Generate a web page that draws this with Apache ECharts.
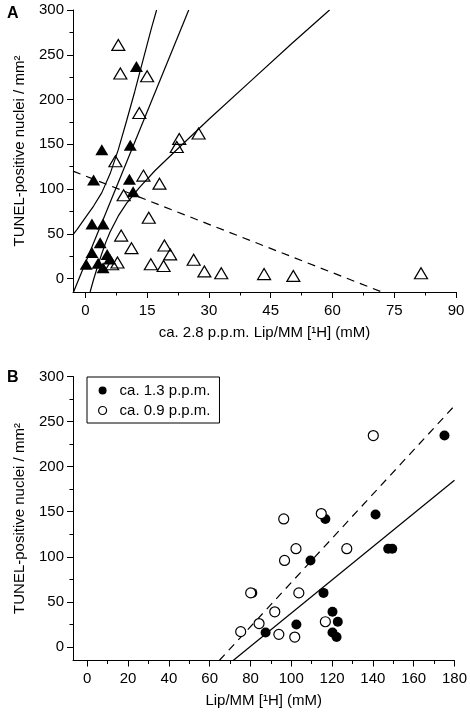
<!DOCTYPE html>
<html><head><meta charset="utf-8">
<script src="https://cdn.jsdelivr.net/npm/echarts@6/dist/echarts.min.js"></script>
<style>html,body{margin:0;padding:0;background:#fff}#c{width:470px;height:714px}</style>
</head><body><div id="c"></div>
<script>
// ---------- Panel A data ----------
const aFilled = [[0.2,16],[1.6,29],[3.1,17],[4.3,12],[5.9,22],[5.3,27],[3.6,40],[1.6,61],[4.3,61],[2.0,110],[10.7,111],[11.6,97],[4.0,144],[10.9,149],[12.4,237]];
const aOpen = [[8.0,261],[8.5,229],[15.0,226],[13.1,185],[22.8,156],[27.5,162],[22.2,147],[7.3,131],[9.3,93],[14.1,115],[18.0,106],[15.4,68],[8.7,48],[11.2,34],[6.5,16],[7.8,18],[19.2,37],[20.6,27],[15.9,16],[19.0,14],[26.3,21],[28.9,8],[33.0,6],[43.4,5],[50.5,3],[81.5,6]];
const aRegLine = [[-2.87,-15],[25.1,300]];
const aUpperBand = [[-2.85,50],[-2,55],[0,68],[2,81],[4,96],[6,117],[8,144],[10,176],[12,209],[14,244],[16,279],[17.3,300]];
const aLowerBand = [[1.15,-15],[2,-1],[3,14],[4,28],[5,41],[6,52],[8,70],[10,84],[13,101],[17,121],[22,143],[30,178],[40,220],[50,262],[59.3,300]];
const aDashed = [[-3,120],[72,-15]];
const aXTicks = [0,15,30,45,60,75,90];
const aXMinor = [7.5,22.5,37.5,52.5,67.5,82.5];
const yTicks = [0,50,100,150,200,250,300];
const yMinor = [25,75,125,175,225,275];

// ---------- Panel B data ----------
const bNames = ['ca. 1.3 p.p.m.','ca. 0.9 p.p.m.'];
const bFilled = [[175.1,234.5],[141.3,147],[116.7,142],[147.5,109],[149.5,109],[109.4,96],[80.9,60],[115.8,60],[120.2,39],[122.8,28],[120.2,16],[122.2,11],[102.5,25],[87.4,16]];
const bOpen = [[140.2,234.5],[96.3,142],[114.7,148],[102.3,109],[96.7,96],[127.2,109],[80.1,60],[103.7,60],[91.9,39],[84.2,26],[75.2,17],[93.9,14],[101.7,11],[116.7,28]];
const bSolidLine = [[71.5,-15],[180,185]];
const bDashedLine = [[64.7,-15],[180,267.5]];
const bXTicks = [0,20,40,60,80,100,120,140,160,180];
const bXMinor = [10,30,50,70,90,110,130,150,170];

const FONT = '"Liberation Sans", Arial, sans-serif';
const txt = {color:'#000', fontSize:15, fontFamily:FONT};

function xMajor(grid, min, max, ticks, name) {
  return {gridIndex:grid, type:'value', min:min, max:max, position:'bottom',
    axisLine:{onZero:false, lineStyle:{color:'#000', width:1}},
    axisTick:{customValues:ticks, length:6, lineStyle:{color:'#000', width:1}},
    axisLabel:Object.assign({customValues:ticks, margin:11}, txt),
    splitLine:{show:false},
    name:name, nameLocation:'middle', nameGap:33, nameTextStyle:Object.assign({}, txt)};
}
function xMin(grid, min, max, ticks) {
  return {gridIndex:grid, type:'value', min:min, max:max, position:'bottom',
    axisLine:{show:false, onZero:false},
    axisTick:{customValues:ticks, length:3.5, lineStyle:{color:'#000', width:1}},
    axisLabel:{show:false}, splitLine:{show:false}};
}
function yMajor(grid, name) {
  return {gridIndex:grid, type:'value', min:-15, max:300, position:'left',
    axisLine:{onZero:false, lineStyle:{color:'#000', width:1}},
    axisTick:{customValues:yTicks, length:6, lineStyle:{color:'#000', width:1}},
    axisLabel:Object.assign({customValues:yTicks, margin:9}, txt),
    splitLine:{show:false},
    name:name, nameLocation:'middle', nameGap:46, nameTextStyle:Object.assign({}, txt)};
}
function yMinAxis(grid) {
  return {gridIndex:grid, type:'value', min:-15, max:300, position:'left',
    axisLine:{show:false, onZero:false},
    axisTick:{customValues:yMinor, length:3.5, lineStyle:{color:'#000', width:1}},
    axisLabel:{show:false}, splitLine:{show:false}};
}
function line(xi, data, dashed) {
  return {type:'line', xAxisIndex:xi, yAxisIndex:xi, data:data, symbol:'none', silent:true,
    lineStyle:{color:'#000', width:1.2, type: dashed ? [8,6] : 'solid'}, z:1, animation:false};
}

const yName = 'TUNEL-positive nuclei / mm\u00B2';
const chart = echarts.init(document.getElementById('c'), null, {renderer:'canvas'});
chart.setOption({
  animation:false,
  backgroundColor:'#fff',
  title:[
    {text:'A', left:7, top:6, padding:0, textStyle:{fontSize:16, fontWeight:'bold', color:'#000', fontFamily:FONT}},
    {text:'B', left:7, top:370, padding:0, textStyle:{fontSize:16, fontWeight:'bold', color:'#000', fontFamily:FONT}}
  ],
  grid:[
    {left:73, right:14, top:10, bottom:422, containLabel:false},
    {left:73, right:13, top:376.5, bottom:53.5, containLabel:false}
  ],
  xAxis:[
    xMajor(0, -3, 90, aXTicks, 'ca. 2.8 p.p.m. Lip/MM [\u00B9H] (mM)'),
    xMin(0, -3, 90, aXMinor),
    xMajor(1, -7, 180, bXTicks, 'Lip/MM [\u00B9H] (mM)'),
    xMin(1, -7, 180, bXMinor)
  ],
  yAxis:[
    yMajor(0, yName), yMinAxis(0), yMajor(1, yName), yMinAxis(1)
  ],
  legend:{
    data:[{name:bNames[0], itemStyle:{color:'#000', opacity:1}},
          {name:bNames[1], itemStyle:{color:'#fff', borderColor:'#000', borderWidth:1.2, opacity:1}}],
    orient:'vertical', left:87, top:377, icon:'circle', itemWidth:24, itemHeight:8, itemGap:5,
    padding:[6,9,5,11], borderColor:'#000', borderWidth:1, borderRadius:0, selectedMode:false,
    textStyle:Object.assign({}, txt)
  },
  series:[
    line(0, aRegLine, false),
    line(0, aUpperBand, false),
    line(0, aLowerBand, false),
    line(0, aDashed, true),
    {type:'scatter', xAxisIndex:0, yAxisIndex:0, data:aFilled, symbol:'triangle', symbolSize:[13,11],
      itemStyle:{color:'#000', opacity:1}, z:3},
    {type:'scatter', xAxisIndex:0, yAxisIndex:0, data:aOpen, symbol:'triangle', symbolSize:[13,11],
      itemStyle:{color:'rgba(255,255,255,0)', borderColor:'#000', borderWidth:1.2, opacity:1}, z:3},
    line(2, bSolidLine, false),
    line(2, bDashedLine, true),
    {type:'scatter', name:bNames[0], xAxisIndex:2, yAxisIndex:2, data:bFilled, symbol:'circle', symbolSize:10,
      itemStyle:{color:'#000', opacity:1}, z:3},
    {type:'scatter', name:bNames[1], xAxisIndex:2, yAxisIndex:2, data:bOpen, symbol:'circle', symbolSize:10,
      itemStyle:{color:'#fff', borderColor:'#000', borderWidth:1.2, opacity:1}, z:3}
  ]
});
</script>
</body></html>
